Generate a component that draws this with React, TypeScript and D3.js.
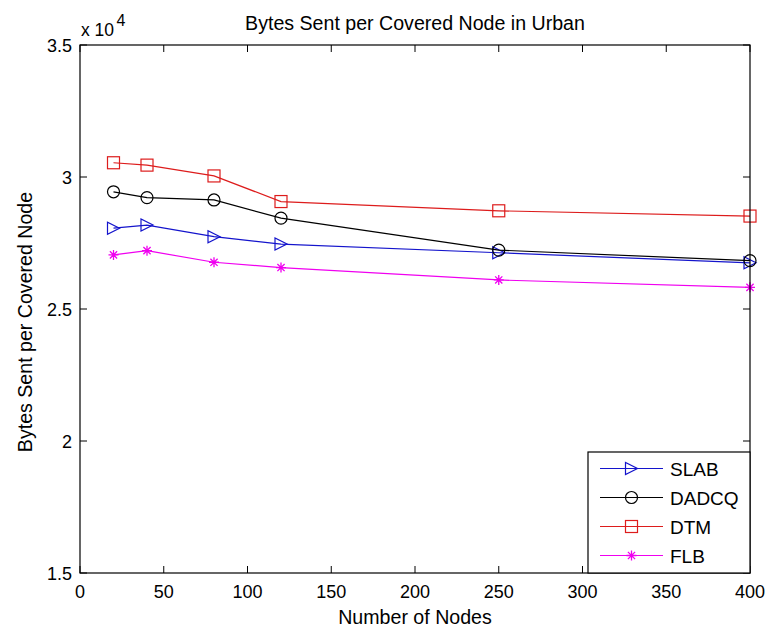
import React from "react";
import * as d3 from "d3";

const nodes = [20, 40, 80, 120, 250, 400];
const slab = [2.806, 2.818, 2.774, 2.746, 2.713, 2.675];
const dadcq = [2.944, 2.922, 2.913, 2.844, 2.723, 2.683];
const dtm = [3.054, 3.045, 3.004, 2.907, 2.872, 2.852];
const flb = [2.705, 2.721, 2.677, 2.657, 2.61, 2.582];

const xTicks = [0, 50, 100, 150, 200, 250, 300, 350, 400];
const yTicks = [1.5, 2, 2.5, 3, 3.5];
const yTickLabels = ["1.5", "2", "2.5", "3", "3.5"];

type Marker = "triangle" | "circle" | "square" | "star";

const seriesList: { name: string; values: number[]; color: string; marker: Marker }[] = [
  { name: "SLAB", values: slab, color: "#1414cc", marker: "triangle" },
  { name: "DADCQ", values: dadcq, color: "#000000", marker: "circle" },
  { name: "DTM", values: dtm, color: "#dd1c1c", marker: "square" },
  { name: "FLB", values: flb, color: "#f000f0", marker: "star" },
];

const W = 770;
const H = 630;
const left = 80;
const right = 750;
const top = 45;
const bottom = 573;
const FONT = "'Liberation Sans', Arial, sans-serif";
const TICK_FS = 18;
const LABEL_FS = 19.6;
const TICK = 7;

function MarkerShape({ kind, x, y, color }: { kind: Marker; x: number; y: number; color: string }) {
  const s = 6;
  if (kind === "triangle") {
    return (
      <path
        d={`M${x - s},${y - s}L${x - s},${y + s}L${x + s},${y}Z`}
        fill="none"
        stroke={color}
        strokeWidth={1.2}
      />
    );
  }
  if (kind === "circle") {
    return <circle cx={x} cy={y} r={s} fill="none" stroke={color} strokeWidth={1.2} />;
  }
  if (kind === "square") {
    return <rect x={x - s} y={y - s} width={2 * s} height={2 * s} fill="none" stroke={color} strokeWidth={1.2} />;
  }
  const r = 5;
  const d = r * 0.72;
  return (
    <path
      d={`M${x},${y - r}L${x},${y + r}M${x - r},${y}L${x + r},${y}M${x - d},${y - d}L${x + d},${y + d}M${x - d},${y + d}L${x + d},${y - d}`}
      stroke={color}
      strokeWidth={1.3}
      fill="none"
    />
  );
}

export default function App() {
  const x = d3.scaleLinear().domain([0, 400]).range([left, right]);
  const y = d3.scaleLinear().domain([1.5, 3.5]).range([bottom, top]);

  const line = d3
    .line<number>()
    .x((_, i) => x(nodes[i]))
    .y((v) => y(v));

  const legX = 588;
  const legY = 452;
  const legW = right - legX;
  const legH = bottom - legY;
  const rowH = 29;

  return (
    <div style={{ position: "absolute", left: 0, top: 0 }}>
      <svg width={W} height={H} style={{ display: "block", background: "#fff" }} fontFamily={FONT}>
        <rect x={0} y={0} width={W} height={H} fill="#fff" />
        {/* data lines */}
        {seriesList.map((s) => (
          <g key={s.name}>
            <path d={line(s.values) || ""} fill="none" stroke={s.color} strokeWidth={1.2} />
            {s.values.map((v, i) => (
              <MarkerShape key={i} kind={s.marker} x={x(nodes[i])} y={y(v)} color={s.color} />
            ))}
          </g>
        ))}

        {/* axes box */}
        <rect x={left} y={top} width={right - left} height={bottom - top} fill="none" stroke="#000" strokeWidth={1.2} />
        {xTicks.map((t) => (
          <g key={`x${t}`}>
            <line x1={x(t)} x2={x(t)} y1={bottom} y2={bottom - TICK} stroke="#000" />
            <line x1={x(t)} x2={x(t)} y1={top} y2={top + TICK} stroke="#000" />
            <text x={x(t)} y={bottom + 24.5} fontSize={TICK_FS} textAnchor="middle" fill="#000">
              {t}
            </text>
          </g>
        ))}
        {yTicks.map((t, i) => (
          <g key={`y${t}`}>
            <line x1={left} x2={left + TICK} y1={y(t)} y2={y(t)} stroke="#000" />
            <line x1={right} x2={right - TICK} y1={y(t)} y2={y(t)} stroke="#000" />
            <text x={left - 8} y={y(t) + 7} fontSize={TICK_FS} textAnchor="end" fill="#000">
              {yTickLabels[i]}
            </text>
          </g>
        ))}
        <text x={81} y={36} fontSize={17.5} fill="#000">
          x 10
        </text>
        <text x={116.5} y={26} fontSize={16} fill="#000">
          4
        </text>

        {/* titles */}
        <text x={(left + right) / 2} y={29.5} fontSize={LABEL_FS} textAnchor="middle" fill="#000">
          Bytes Sent per Covered Node in Urban
        </text>
        <text x={(left + right) / 2} y={623.5} fontSize={LABEL_FS} textAnchor="middle" fill="#000">
          Number of Nodes
        </text>
        <text
          transform={`translate(31.5,322) rotate(-90)`}
          fontSize={LABEL_FS}
          textAnchor="middle"
          fill="#000"
        >
          Bytes Sent per Covered Node
        </text>

        {/* legend */}
        <rect x={legX} y={legY} width={legW} height={legH} fill="#fff" stroke="#000" strokeWidth={1.2} />
        {seriesList.map((s, i) => {
          const cy = legY + 16.5 + i * rowH;
          return (
            <g key={`leg${s.name}`}>
              <line x1={600} x2={663} y1={cy} y2={cy} stroke={s.color} strokeWidth={1.2} />
              <MarkerShape kind={s.marker} x={631.5} y={cy} color={s.color} />
              <text x={670} y={cy + 7} fontSize={19} fill="#000">
                {s.name}
              </text>
            </g>
          );
        })}
      </svg>
    </div>
  );
}
